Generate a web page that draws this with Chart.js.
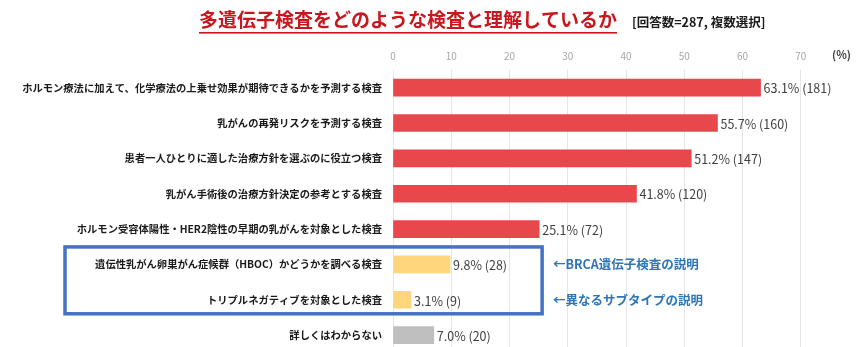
<!DOCTYPE html>
<html lang="ja">
<head>
<meta charset="utf-8">
<script src="https://cdn.jsdelivr.net/npm/chart.js@4/dist/chart.umd.min.js"></script>
<style>
    html, body {
        margin: 0;
        padding: 0;
        background: #ffffff;
        overflow: hidden;
    }

    #grafico {
        position: relative;
        width: 861px;
        height: 370px;
    }
</style>
</head>
<body>
<div id="grafico">
    <canvas id="barChart"></canvas>
</div>

<script>
const categorias = [
    "ホルモン療法に加えて、化学療法の上乗せ効果が期待できるかを予測する検査",
    "乳がんの再発リスクを予測する検査",
    "患者一人ひとりに適した治療方針を選ぶのに役立つ検査",
    "乳がん手術後の治療方針決定の参考とする検査",
    "ホルモン受容体陽性・HER2陰性の早期の乳がんを対象とした検査",
    "遺伝性乳がん卵巣がん症候群（HBOC）かどうかを調べる検査",
    "トリプルネガティブを対象とした検査",
    "詳しくはわからない"
];
const porcentagens = [63.1, 55.7, 51.2, 41.8, 25.1, 9.8, 3.1, 7.0];
const respostas = [181, 160, 147, 120, 72, 28, 9, 20];
const coresBarras = ["#e8474b", "#e8474b", "#e8474b", "#e8474b", "#e8474b", "#ffd67c", "#ffd67c", "#bfbfbf"];
const ticksX = [0, 10, 20, 30, 40, 50, 60, 70];

const titulo = "多遺伝子検査をどのような検査と理解しているか";
const subtitulo = "[回答数=287, 複数選択]";
const notas = [
    { indice: 5, texto: "←BRCA遺伝子検査の説明" },
    { indice: 6, texto: "←異なるサブタイプの説明" }
];

const fonteJP = "'Noto Sans CJK JP', 'Noto Sans', sans-serif";

// titulo sublinhado + subtitulo
const pluginTitulo = {
    id: "titulo",
    afterDraw(chart) {
        const ctx = chart.ctx;
        ctx.save();
        ctx.textBaseline = "middle";
        ctx.textAlign = "left";

        ctx.font = `bold 19px ${fonteJP}`;
        ctx.fillStyle = "#c8171e";
        const largura = ctx.measureText(titulo).width;
        ctx.fillText(titulo, 199, 20);
        ctx.fillRect(199, 32, largura, 1.6);

        ctx.font = `bold 12.5px ${fonteJP}`;
        ctx.fillStyle = "#1a1a1a";
        ctx.fillText(subtitulo, 632, 22);

        ctx.font = `bold 11px ${fonteJP}`;
        ctx.fillStyle = "#404040";
        ctx.fillText("(%)", 832, 55);
        ctx.restore();
    }
};

// rotulo "63.1% (181)" na ponta de cada barra
const pluginRotulos = {
    id: "rotulos",
    afterDatasetsDraw(chart) {
        const ctx = chart.ctx;
        const meta = chart.getDatasetMeta(0);
        ctx.save();
        ctx.font = `12.5px ${fonteJP}`;
        ctx.fillStyle = "#404040";
        ctx.textAlign = "left";
        ctx.textBaseline = "middle";
        for (let i = 0; i < meta.data.length; i++) {
            const barra = meta.data[i];
            const texto = `${porcentagens[i].toFixed(1)}% (${respostas[i]})`;
            ctx.fillText(texto, barra.x + 3, barra.y + 1);
        }
        ctx.restore();
    }
};

// caixa azul em volta dos itens HBOC / triplo negativo, com as notas ao lado
const pluginDestaque = {
    id: "destaque",
    afterDraw(chart) {
        const ctx = chart.ctx;
        const y = chart.scales.y;
        const x = chart.scales.x;
        const topo = y.getPixelForValue(5) - 17.5;
        const base = y.getPixelForValue(6) + 14;
        const direita = x.getPixelForValue(25.6);

        ctx.save();
        ctx.strokeStyle = "#4472c4";
        ctx.lineWidth = 3.5;
        ctx.strokeRect(65, topo, direita - 65, base - topo);

        ctx.font = `bold 12.5px ${fonteJP}`;
        ctx.fillStyle = "#2e75b6";
        ctx.textAlign = "left";
        ctx.textBaseline = "middle";
        for (let i = 0; i < notas.length; i++) {
            ctx.fillText(notas[i].texto, 553, y.getPixelForValue(notas[i].indice));
        }
        ctx.restore();
    }
};

const ctx = document.getElementById("barChart");

const barChart = new Chart(ctx, {
    type: "bar",
    data: {
        labels: categorias,
        datasets: [{
            data: porcentagens,
            backgroundColor: coresBarras,
            borderWidth: 0,
            barThickness: 17
        }]
    },
    options: {
        indexAxis: "y",
        responsive: true,
        maintainAspectRatio: false,
        animation: false,
        layout: {
            padding: { top: 45, right: 2, bottom: 0, left: 0 }
        },
        scales: {
            x: {
                position: "top",
                min: 0,
                max: 80,
                afterFit(scale) {
                    scale.height = 25;
                },
                afterBuildTicks(scale) {
                    scale.ticks = ticksX.map(v => ({ value: v }));
                },
                border: { display: false },
                grid: {
                    drawTicks: false,
                    color: "#e6e6e6",
                    lineWidth: 1
                },
                ticks: {
                    padding: 8,
                    color: "#a6a6a6",
                    font: { family: fonteJP, size: 10 }
                }
            },
            y: {
                afterFit(scale) {
                    scale.width = 393;
                },
                border: { display: false },
                grid: { display: false, drawTicks: false },
                ticks: {
                    padding: 11,
                    color: "#1a1a1a",
                    font: { family: fonteJP, size: 10.3, weight: "bold" }
                }
            }
        },
        plugins: {
            legend: { display: false },
            tooltip: { enabled: false }
        }
    },
    plugins: [pluginTitulo, pluginRotulos, pluginDestaque]
});
</script>
</body>
</html>
